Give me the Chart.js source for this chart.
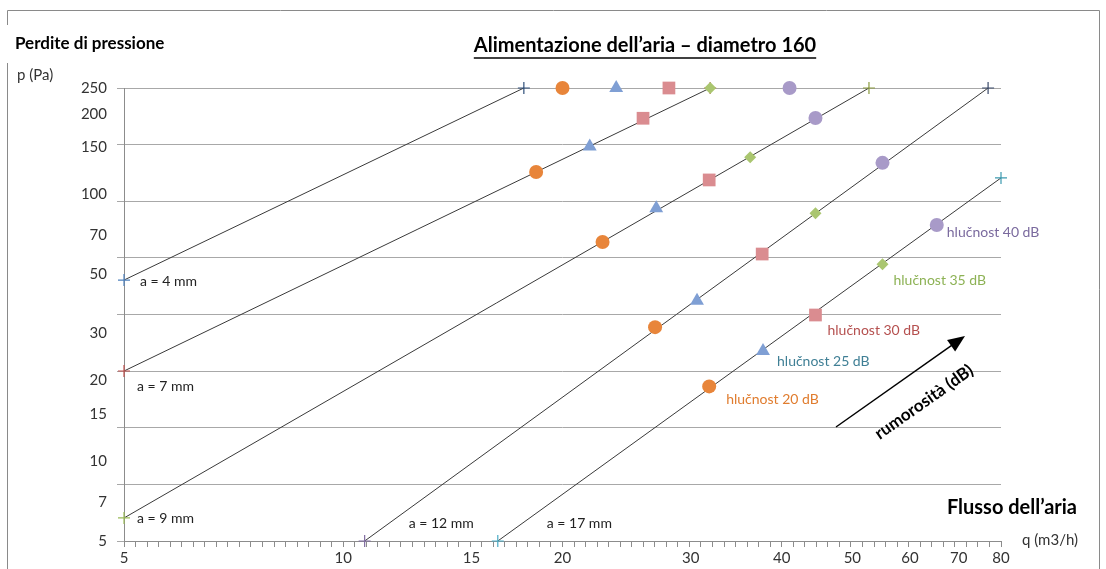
<!DOCTYPE html>
<html>
<head>
<meta charset="utf-8">
<script src="https://cdn.jsdelivr.net/npm/chart.js@4.4.1/dist/chart.umd.min.js"></script>
<style>
  html, body { margin: 0; padding: 0; background: #fff; }
  #wrap { width: 1106px; height: 569px; }
</style>
</head>
<body>
<div id="wrap"><canvas id="chart" width="1106" height="569"></canvas></div>
<script>
// axis ticks
var flowTicks = [5, 10, 15, 20, 30, 40, 50, 60, 70, 80];
var pressureTicks = [5, 7, 10, 15, 20, 30, 50, 70, 100, 150, 200, 250];

// damper openings, each one is a straight line start -> end
var openings = ['a = 4 mm', 'a = 7 mm', 'a = 9 mm', 'a = 12 mm', 'a = 17 mm'];
var flowStart = [5, 5, 5, 10.7, 16.3];
var pressStart = [47.6, 21.7, 6.1, 5, 5];
var flowEnd = [17.7, 31.9, 52.7, 76.8, 80];
var pressEnd = [250, 250, 250, 250, 115];

// noise levels (one point per opening line)
var noiseLabels = ['hlučnost 20 dB', 'hlučnost 25 dB', 'hlučnost 30 dB', 'hlučnost 35 dB', 'hlučnost 40 dB'];
var flow20 = [20.0, 18.4, 22.7, 26.8, 31.8];
var press20 = [250, 121, 66.1, 31.7, 19.0];
var flow25 = [23.7, 21.8, 26.9, 30.6, 37.7];
var press25 = [250, 150.7, 88.5, 39.8, 25.8];
var flow30 = [28.0, 25.8, 31.8, 37.6, 44.5];
var press30 = [250, 192.5, 113, 59.6, 35.2];
var flow35 = [31.9, 36.2, 44.5, 55.0];
var press35 = [250, 137.5, 84.8, 54.6];
var flow40 = [41.0, 44.5, 55.0, 65.3];
var press40 = [250, 193, 131, 76.6];

// styles
var FONT = 'Lato, "Liberation Sans", sans-serif';
var crossStartColors = ['#4f81bd', '#c0504d', '#9bbb59', '#7f6aa0', '#4bacc6'];
var crossEndColors = ['#2f4f7a', '#c0504d', '#8a9a3c', '#3b4a6b', '#3d9ab0'];
var openLabelDx = [16, 13, 13, 44, 49];
var openLabelDy = [1, 15, 1, -18, -18];
var noiseFill = ['#e8853a', '#7f9fd4', '#da8c90', '#aac670', '#a89ac8'];
var noiseText = ['#e07c2e', '#3f7f95', '#b5504f', '#8db255', '#7a6a9e'];
var noiseStyle = ['circle', 'triangle', 'rect', 'rectRot', 'circle'];
var noiseRadius = [7, 8, 9, 6, 7];
var noiseLabelDx = [17, 14, 12, 11, 10];
var noiseLabelDy = [13, 10, 15, 16, 8];

function pts(xs, ys) {
	var out = [];
	for (var i = 0; i < xs.length; i++) out.push({ x: xs[i], y: ys[i] });
	return out;
}

var noiseFlows = [flow20, flow25, flow30, flow35, flow40];
var noisePress = [press20, press25, press30, press35, press40];

var datasets = [];
for (var i = 0; i < openings.length; i++) {
	datasets.push({
		label: openings[i],
		data: [{ x: flowStart[i], y: pressStart[i] }, { x: flowEnd[i], y: pressEnd[i] }],
		xAxisID: 'x',
		yAxisID: 'y',
		showLine: true,
		borderColor: '#3a3a3a',
		borderWidth: 1,
		pointStyle: 'cross',
		pointRadius: 6,
		pointBorderWidth: 1.2,
		pointBorderColor: [crossStartColors[i], crossEndColors[i]],
		clip: false,
		order: 2
	});
}
for (var j = 0; j < noiseLabels.length; j++) {
	datasets.push({
		label: noiseLabels[j],
		data: pts(noiseFlows[j], noisePress[j]),
		xAxisID: 'x',
		yAxisID: 'y',
		showLine: false,
		pointStyle: noiseStyle[j],
		pointRadius: noiseRadius[j],
		backgroundColor: noiseFill[j],
		borderColor: noiseFill[j],
		pointBorderWidth: 0,
		clip: false,
		order: 1
	});
}

function text(ctx, s, x, y, font, color, align) {
	ctx.font = font;
	ctx.fillStyle = color;
	ctx.textAlign = align || 'left';
	ctx.textBaseline = 'middle';
	ctx.fillText(s, x, y);
}

var decorations = {
	id: 'decorations',
	beforeDraw: function (chart) {
		var ctx = chart.ctx;
		ctx.save();
		ctx.fillStyle = '#fff';
		ctx.fillRect(0, 0, chart.width, chart.height);
		ctx.strokeStyle = '#8a8a8a';
		ctx.lineWidth = 1;
		ctx.beginPath();
		ctx.moveTo(7.5, 10.5); ctx.lineTo(1099.5, 10.5); ctx.lineTo(1099.5, 569);
		ctx.moveTo(7.5, 10.5); ctx.lineTo(7.5, 25);
		ctx.moveTo(7.5, 63); ctx.lineTo(7.5, 569);
		ctx.stroke();
		ctx.restore();
	},
	afterDraw: function (chart) {
		var ctx = chart.ctx;
		var xs = chart.scales.x, ys = chart.scales.y;
		ctx.save();

		text(ctx, 'Perdite di pressione', 15, 44, 'bold 17px ' + FONT, '#000');
		text(ctx, 'p (Pa)', 17, 75, '15px ' + FONT, '#333');

		var title = 'Alimentazione dell\u2019aria \u2013 diametro 160';
		text(ctx, title, 645, 46, 'bold 20px ' + FONT, '#000', 'center');
		var tw = ctx.measureText(title).width;
		ctx.strokeStyle = '#000';
		ctx.lineWidth = 1.4;
		ctx.beginPath();
		ctx.moveTo(645 - tw / 2, 58);
		ctx.lineTo(645 + tw / 2, 58);
		ctx.stroke();

		text(ctx, 'Flusso dell\u2019aria', 1077, 508, 'bold 20px ' + FONT, '#000', 'right');
		text(ctx, 'q (m3/h)', 1022, 540, '15px ' + FONT, '#333');

		// opening labels near line starts
		for (var i = 0; i < openings.length; i++) {
			var px = xs.getPixelForValue(flowStart[i]) + openLabelDx[i];
			var py = ys.getPixelForValue(pressStart[i]) + openLabelDy[i];
			text(ctx, openings[i], px, py, '14px ' + FONT, '#222');
		}

		// noise labels near the last point of each level
		for (var j = 0; j < noiseLabels.length; j++) {
			var n = noiseFlows[j].length - 1;
			var lx = xs.getPixelForValue(noiseFlows[j][n]) + noiseLabelDx[j];
			var ly = ys.getPixelForValue(noisePress[j][n]) + noiseLabelDy[j];
			text(ctx, noiseLabels[j], lx, ly, '14px ' + FONT, noiseText[j]);
		}

		// arrow "rumorosita"
		var ax0 = 836, ay0 = 427, ax1 = 965, ay1 = 336;
		var ang = Math.atan2(ay1 - ay0, ax1 - ax0);
		ctx.strokeStyle = '#000';
		ctx.fillStyle = '#000';
		ctx.lineWidth = 1.5;
		ctx.beginPath();
		ctx.moveTo(ax0, ay0);
		ctx.lineTo(ax1 - 12 * Math.cos(ang), ay1 - 12 * Math.sin(ang));
		ctx.stroke();
		ctx.beginPath();
		ctx.moveTo(ax1, ay1);
		ctx.lineTo(ax1 - 17 * Math.cos(ang) + 7 * Math.sin(ang), ay1 - 17 * Math.sin(ang) - 7 * Math.cos(ang));
		ctx.lineTo(ax1 - 17 * Math.cos(ang) - 7 * Math.sin(ang), ay1 - 17 * Math.sin(ang) + 7 * Math.cos(ang));
		ctx.closePath();
		ctx.fill();

		ctx.translate(924, 402);
		ctx.rotate(ang);
		text(ctx, 'rumorosit\u00e0 (dB)', 0, 0, 'bold 17px ' + FONT, '#000', 'center');

		ctx.restore();
	}
};

new Chart(document.getElementById('chart'), {
	type: 'scatter',
	data: { datasets: datasets },
	plugins: [decorations],
	options: {
		responsive: false,
		animation: false,
		layout: { padding: { left: 0, top: 88, right: 105, bottom: 0 } },
		plugins: { legend: { display: false }, tooltip: { enabled: false } },
		scales: {
			yGrid: {
				type: 'linear',
				position: 'left',
				min: 0,
				max: 8,
				ticks: { display: false, stepSize: 1 },
				grid: { color: '#a8a8a8', lineWidth: 1, tickLength: 7 },
				border: { display: false },
				afterFit: function (s) { s.width = 0; }
			},
			y: {
				type: 'logarithmic',
				position: 'left',
				min: 5,
				max: 250,
				afterBuildTicks: function (s) { s.ticks = pressureTicks.map(function (v) { return { value: v }; }); },
				ticks: {
					callback: function (v) { return String(v); },
					font: { family: FONT, size: 15 },
					color: '#333',
					padding: 17,
					autoSkip: false
				},
				grid: { display: false, drawTicks: false },
				border: { display: true, color: '#8c8c8c' },
				afterFit: function (s) { s.width = 124; }
			},
			xMinor: {
				type: 'linear',
				position: 'bottom',
				min: 0,
				max: 76,
				ticks: { display: false, stepSize: 1, autoSkip: false, maxTicksLimit: 200 },
				grid: { drawOnChartArea: false, drawTicks: true, tickLength: 6, color: '#8c8c8c' },
				border: { display: false },
				afterFit: function (s) { s.height = 0; }
			},
			x: {
				type: 'logarithmic',
				position: 'bottom',
				min: 5,
				max: 80,
				afterBuildTicks: function (s) { s.ticks = flowTicks.map(function (v) { return { value: v }; }); },
				ticks: {
					callback: function (v) { return String(v); },
					font: { family: FONT, size: 15 },
					color: '#333',
					padding: 8,
					autoSkip: false,
					maxRotation: 0
				},
				grid: { display: false, drawTicks: false },
				border: { display: true, color: '#8c8c8c' },
				afterFit: function (s) { s.height = 28; }
			}
		}
	}
});
</script>
</body>
</html>
